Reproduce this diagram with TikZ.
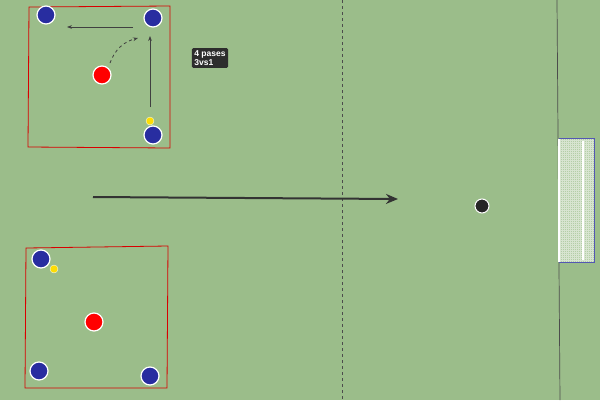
\documentclass[tikz,border=0pt]{standalone}
\usepackage{fontspec}
\setmainfont{Liberation Sans}
\usetikzlibrary{arrows.meta,positioning,patterns}
\definecolor{pitch}{RGB}{155,189,138}
\definecolor{blueply}{RGB}{40,45,160}
\definecolor{tagbg}{RGB}{45,45,45}
\tikzset{
	player/.style = {circle, draw = white, line width = 1.2pt, inner sep = 0pt, minimum size = 18pt},
	blue ply/.style = {player, fill = blueply},
	red ply/.style = {player, fill = red},
	cone/.style = {circle, fill = yellow!80!orange, draw = white, line width = .3pt, inner sep = 0pt, minimum size = 8pt},
	pass/.style = {-{Stealth[length = 5pt]}, line width = .8pt, black!75},
	zone/.style = {draw = red!85!black, line width = .8pt}
}
\begin{document}
\begin{tikzpicture}[x = 1pt, y = -1pt]
	\fill[pitch] (0,0) rectangle (600,400);
	\useasboundingbox (0,0) rectangle (600,400);
	% halfway and goal line
	\draw[dashed, black!70, line width = .7pt] (342,0) -- (342,400);
	\draw[black!70, line width = .7pt] (557,0) -- (560,400);
	% goal
	\fill[white!25!pitch] (559,139) rectangle (594,262);
	\draw[white!60!pitch, line width = .2pt, step = 2pt] (559,139) grid (594,262);
	\draw[white, line width = 1.5pt] (559,139) -- (559,262) (583,141) -- (583,260);
	\draw[blueply!80, line width = .8pt] (559,138) -- (594,138) -- (594,262) -- (559,262);
	% zones
	\draw[zone] (29,7) -- (170,6) -- (170,148) -- (28,147) -- cycle;
	\draw[zone] (26,248) -- (168,246) -- (167,388) -- (25,388) -- cycle;
	% top drill
	\node[blue ply] (a1) at (46,15) {};
	\node[blue ply] (a2) at (153,18) {};
	\node[red ply] (a3) at (102,75) {};
	\node[blue ply] (a4) at (153,135) {};
	\node[cone] (c1) at (150,121) {};
	\coordinate (p1) at (150,107);
	\coordinate (p2) at (150,36);
	\coordinate (p3) at (133,27);
	\coordinate (p4) at (67,27);
	\coordinate (r1) at (110,63);
	\coordinate (r2) at (138,38);
	\draw[pass] (p1) -- (p2);
	\draw[pass] (p3) -- (p4);
	\draw[pass, dashed] (r1) to[out = 70, in = 195] (r2);
	\node[fill = tagbg, text = white, font = \bfseries\fontsize{8.5}{9}\selectfont, align = left, rounded corners = 1.5pt, inner sep = 2.5pt] (tag) at (210,58) {4 pases\\3vs1};
	% bottom drill
	\node[blue ply] (b1) at (41,259) {};
	\node[cone] (c2) at (54,269) {};
	\node[red ply] (b2) at (94,322) {};
	\node[blue ply] (b3) at (39,371) {};
	\node[blue ply] (b4) at (150,376) {};
	% attack direction
	\coordinate (m1) at (93,197);
	\coordinate (m2) at (398,199);
	\draw[-{Stealth[length = 12pt, width = 10pt]}, line width = 2pt, black!80] (m1) -- (m2);
	\node[circle, fill = black!85, draw = white, line width = 1pt, inner sep = 0pt, minimum size = 14pt] (ball) at (482,206) {};
\end{tikzpicture}
\end{document}
